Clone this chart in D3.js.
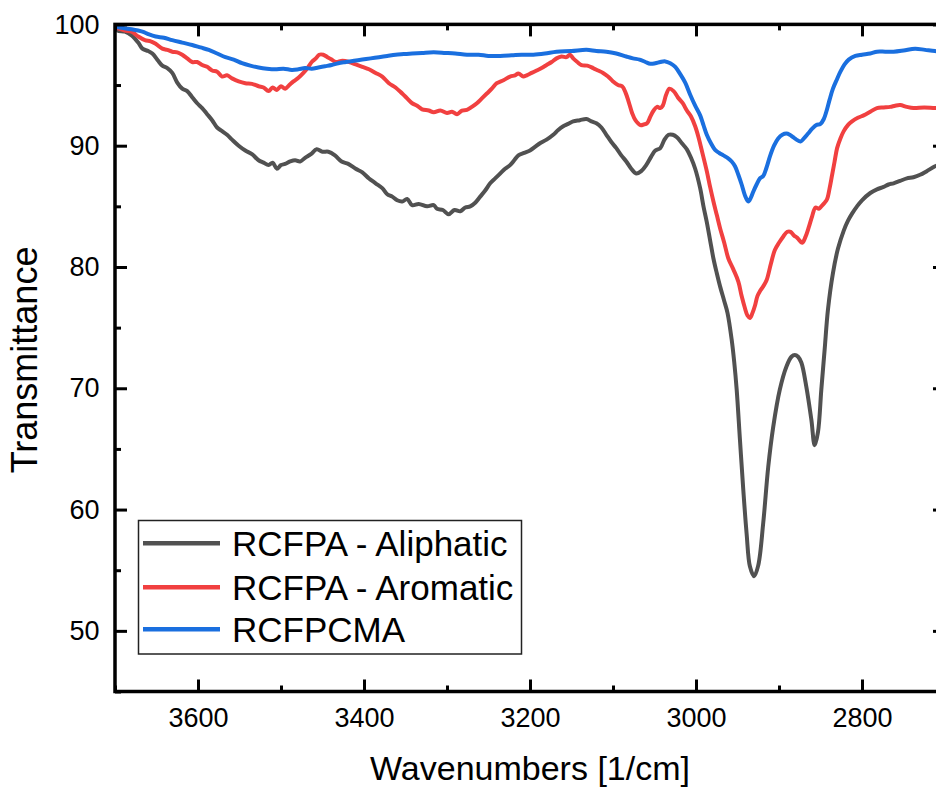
<!DOCTYPE html>
<html>
<head>
<meta charset="utf-8">
<script src="https://cdn.jsdelivr.net/npm/d3@7"></script>
<style>
  html, body { margin: 0; padding: 0; background: #ffffff; overflow: hidden; }
  svg { display: block; font-family: "Liberation Sans", Arial, sans-serif; }
</style>
</head>
<body>
<svg id="chart" width="936" height="787"></svg>
<script>
// FTIR transmittance spectra, C-H stretching region
const wnAliphatic = [3700,3697,3688,3680,3672,3667,3660,3655,3648,3643,3637,3631,3625,3619,3613,3607,3601,3595,3589,3583,3577,3571,3565,3559,3551,3543,3535,3527,3521,3515,3510,3505,3500,3495,3489,3483,3477,3471,3464,3457,3450,3443,3435,3427,3419,3410,3402,3394,3386,3378,3372,3366,3360,3354,3348,3342,3334,3324,3316,3312,3305,3298,3291,3284,3278,3272,3266,3260,3254,3248,3242,3236,3230,3224,3219,3214,3207,3200,3194,3188,3180,3172,3166,3160,3154,3148,3140,3132,3126,3120,3114,3108,3102,3096,3090,3084,3078,3072,3066,3060,3054,3049,3043,3038,3033,3028,3023,3017,3011,3006,3001,2995,2991,2987,2983,2979,2975,2971,2966,2962,2957,2954,2951,2947,2943,2939,2935,2930,2925,2919,2913,2907,2899,2891,2885,2881,2877,2873,2867,2861,2857,2853,2849,2845,2841,2835,2829,2822,2817,2812,2806,2800,2790,2782,2774,2768,2762,2754,2746,2738,2730,2722,2712,2700];
const tAliphatic = [99.8,99.5,99.4,99.1,98.5,98.0,97.8,97.6,97.0,96.6,96.4,96.0,95.2,94.7,94.5,94.0,93.5,93.1,92.6,92.1,91.5,91.2,90.9,90.5,90.0,89.6,89.3,88.8,88.6,88.4,88.6,88.1,88.4,88.5,88.7,88.8,88.7,89.0,89.3,89.7,89.5,89.5,89.2,88.7,88.5,88.1,87.8,87.3,86.9,86.5,86.0,85.8,85.5,85.4,85.6,85.1,85.2,85.0,85.1,84.8,84.7,84.35,84.7,84.6,84.9,85.0,85.3,85.8,86.3,86.9,87.3,87.7,88.1,88.4,88.8,89.2,89.4,89.6,89.9,90.2,90.5,90.9,91.3,91.6,91.8,92.0,92.1,92.2,92.0,91.85,91.5,90.9,90.3,89.8,89.2,88.7,88.1,87.7,87.9,88.4,89.1,89.6,89.8,90.5,90.9,90.9,90.7,90.2,89.7,89.0,88.1,86.5,85.0,83.7,82.2,80.7,79.5,78.4,77.2,76.2,74.0,72.2,69.9,65.7,61.6,58.0,55.3,54.5,55.4,58.9,63.5,66.8,69.9,71.8,72.6,72.75,72.6,72.1,70.1,67.4,65.3,66.4,69.9,73.2,76.5,79.5,81.5,83.0,83.8,84.4,85.0,85.5,86.1,86.4,86.6,86.8,86.9,87.1,87.3,87.4,87.6,87.9,88.3,88.6];

const wnAromatic = [3700,3697,3688,3680,3672,3664,3657,3651,3643,3637,3631,3625,3619,3613,3607,3601,3595,3589,3583,3577,3571,3565,3559,3551,3543,3535,3527,3521,3515,3510,3505,3500,3495,3490,3485,3479,3473,3468,3463,3458,3454,3449,3444,3439,3434,3426,3418,3410,3402,3394,3386,3378,3370,3362,3354,3348,3342,3336,3330,3322,3316,3308,3300,3294,3288,3282,3276,3270,3264,3258,3252,3246,3240,3232,3224,3218,3214,3208,3204,3198,3192,3186,3180,3174,3168,3162,3156,3152,3148,3143,3138,3131,3124,3118,3112,3106,3100,3094,3089,3085,3081,3077,3073,3067,3063,3059,3055,3051,3047,3043,3040,3036,3032,3027,3022,3016,3011,3006,3001,2997,2993,2987,2983,2979,2975,2971,2966,2961,2955,2949,2945,2941,2938,2935,2932,2929,2926,2923,2919,2915,2910,2905,2900,2895,2890,2886,2882,2878,2872,2868,2864,2860,2856,2852,2849,2845,2842,2839,2836,2833,2830,2826,2822,2817,2812,2805,2798,2790,2782,2774,2766,2760,2754,2746,2738,2725,2712,2700];
const tAromatic = [99.8,99.7,99.5,99.4,99.0,98.7,98.6,98.4,98.0,97.9,97.75,97.7,97.5,97.2,96.9,96.9,96.65,96.5,96.2,96.1,95.7,95.8,95.55,95.3,95.15,95.1,94.9,94.8,94.5,94.8,94.6,94.9,94.7,95.0,95.3,95.6,96.0,96.4,96.9,97.2,97.5,97.5,97.3,97.1,96.9,97.0,96.9,96.7,96.5,96.3,96.0,95.7,95.15,94.8,94.3,93.9,93.5,93.3,93.0,92.9,92.75,92.9,92.7,92.8,92.6,92.9,92.95,93.2,93.5,93.9,94.3,94.7,95.15,95.4,95.7,95.8,95.95,95.7,95.8,96.0,96.2,96.4,96.65,96.9,97.2,97.35,97.3,97.5,97.2,96.9,96.65,96.6,96.4,96.2,96.0,95.7,95.3,95.0,94.9,94.4,93.6,92.7,92.1,91.7,91.75,91.85,92.4,92.9,93.2,93.1,93.3,94.2,94.7,94.5,94.0,93.5,92.9,92.4,91.6,90.7,89.6,87.9,86.6,85.4,84.3,83.2,82.0,80.7,79.8,78.8,77.6,76.6,76.0,75.8,76.2,76.8,77.6,78.0,78.4,78.9,80.2,81.4,82.0,82.5,82.9,82.9,82.6,82.4,82.0,82.5,83.3,84.2,84.9,84.8,85.0,85.3,85.6,86.5,87.6,88.7,89.8,90.6,91.2,91.7,92.0,92.3,92.5,92.8,93.1,93.15,93.2,93.3,93.35,93.2,93.1,93.15,93.1,93.1];

const wnPCMA = [3700,3690,3680,3667,3660,3651,3641,3631,3619,3607,3597,3587,3577,3567,3557,3547,3537,3527,3517,3507,3497,3487,3479,3471,3463,3455,3447,3439,3431,3422,3412,3402,3392,3382,3372,3362,3352,3342,3330,3316,3302,3290,3276,3262,3250,3236,3222,3210,3196,3182,3168,3150,3132,3120,3108,3096,3084,3076,3068,3061,3055,3049,3043,3037,3031,3025,3019,3013,3007,3001,2995,2991,2987,2982,2977,2972,2967,2962,2957,2953,2949,2945,2941,2937,2934,2931,2927,2923,2919,2915,2911,2906,2901,2896,2891,2887,2883,2879,2874,2870,2865,2860,2855,2850,2846,2843,2839,2835,2830,2826,2821,2816,2808,2800,2790,2782,2772,2762,2750,2736,2724,2712,2700];
const tPCMA = [99.8,99.7,99.6,99.4,99.2,99.0,98.9,98.7,98.5,98.3,98.1,97.9,97.6,97.3,97.1,96.8,96.6,96.45,96.35,96.3,96.35,96.25,96.3,96.4,96.35,96.45,96.55,96.65,96.8,96.9,97.0,97.1,97.2,97.3,97.4,97.5,97.55,97.6,97.65,97.7,97.65,97.6,97.5,97.5,97.4,97.4,97.45,97.5,97.5,97.6,97.75,97.8,97.9,97.8,97.75,97.6,97.35,97.2,97.1,96.9,96.75,96.8,96.9,96.95,96.8,96.5,95.9,95.2,94.2,93.3,92.5,91.7,90.9,90.2,89.65,89.4,89.2,89.0,88.7,88.3,87.6,86.8,85.9,85.4,85.7,86.2,86.8,87.3,87.5,88.2,89.1,90.0,90.6,90.9,91.0,90.9,90.7,90.5,90.35,90.6,91.0,91.4,91.7,91.8,92.2,92.8,93.8,94.7,95.5,96.1,96.7,97.1,97.4,97.5,97.6,97.75,97.75,97.75,97.85,98.0,97.9,97.8,97.75];

const seriesNames = ["RCFPA - Aliphatic", "RCFPA - Aromatic", "RCFPCMA"];
const seriesColors = ["#515151", "#F14040", "#1A6FDF"];

const xMajorTicks = [3600, 3400, 3200, 3000, 2800];
const xMinorTicks = [3700, 3500, 3300, 3100, 2900, 2700];
const yMajorTicks = [50, 60, 70, 80, 90, 100];
const yMinorTicks = [45, 55, 65, 75, 85, 95];

const xTitle = "Wavenumbers [1/cm]";
const yTitle = "Transmittance";

// ---- layout ----
const frame = { left: 115, right: 945, top: 24.4, bottom: 691.5 };
const svg = d3.select("#chart");

const x = d3.scaleLinear().domain([3700, 2700]).range([frame.left, frame.right]);
const y = d3.scaleLinear().domain([45, 100]).range([frame.bottom, frame.top]);

svg.append("defs").append("clipPath").attr("id", "plotClip")
  .append("rect")
  .attr("x", frame.left).attr("y", frame.top)
  .attr("width", frame.right - frame.left).attr("height", frame.bottom - frame.top);

// ---- spectra ----
const series = [
  { name: seriesNames[0], color: seriesColors[0], wn: wnAliphatic, t: tAliphatic },
  { name: seriesNames[1], color: seriesColors[1], wn: wnAromatic, t: tAromatic },
  { name: seriesNames[2], color: seriesColors[2], wn: wnPCMA, t: tPCMA }
];

const line = d3.line()
  .x(d => x(d[0]))
  .y(d => y(d[1]))
  .curve(d3.curveCatmullRom.alpha(0.5));

const plot = svg.append("g").attr("clip-path", "url(#plotClip)");
series.forEach(s => {
  plot.append("path")
    .datum(s.wn.map((w, i) => [w, s.t[i]]))
    .attr("fill", "none")
    .attr("stroke", s.color)
    .attr("stroke-width", 4)
    .attr("stroke-linejoin", "round")
    .attr("stroke-linecap", "round")
    .attr("d", line);
});

// ---- axes (ticks point inward on all four sides) ----
const MAJOR = 12, MINOR = 6;
function styleAxis(g) {
  g.select(".domain").remove();
  g.selectAll(".tick line").attr("stroke", "#000").attr("stroke-width", 3);
  g.selectAll(".tick text")
    .attr("fill", "#000")
    .style("font-size", "27px")
    .style("font-family", "'Liberation Sans', Arial, sans-serif");
}

// bottom
svg.append("g").attr("transform", `translate(0,${frame.bottom})`)
  .call(d3.axisBottom(x).tickValues(xMajorTicks).tickSizeInner(-MAJOR).tickSizeOuter(0).tickPadding(16).tickFormat(d3.format("d")))
  .call(styleAxis);
svg.append("g").attr("transform", `translate(0,${frame.bottom})`)
  .call(d3.axisBottom(x).tickValues(xMinorTicks).tickSizeInner(-MINOR).tickSizeOuter(0).tickFormat(""))
  .call(styleAxis);
// top
svg.append("g").attr("transform", `translate(0,${frame.top})`)
  .call(d3.axisTop(x).tickValues(xMajorTicks).tickSizeInner(-MAJOR).tickSizeOuter(0).tickFormat(""))
  .call(styleAxis);
svg.append("g").attr("transform", `translate(0,${frame.top})`)
  .call(d3.axisTop(x).tickValues(xMinorTicks).tickSizeInner(-MINOR).tickSizeOuter(0).tickFormat(""))
  .call(styleAxis);
// left
svg.append("g").attr("transform", `translate(${frame.left},0)`)
  .call(d3.axisLeft(y).tickValues(yMajorTicks).tickSizeInner(-MAJOR).tickSizeOuter(0).tickPadding(15.5).tickFormat(d3.format("d")))
  .call(styleAxis);
svg.append("g").attr("transform", `translate(${frame.left},0)`)
  .call(d3.axisLeft(y).tickValues(yMinorTicks).tickSizeInner(-MINOR).tickSizeOuter(0).tickFormat(""))
  .call(styleAxis);
// right
svg.append("g").attr("transform", `translate(${frame.right},0)`)
  .call(d3.axisRight(y).tickValues(yMajorTicks).tickSizeInner(-MAJOR).tickSizeOuter(0).tickFormat(""))
  .call(styleAxis);
svg.append("g").attr("transform", `translate(${frame.right},0)`)
  .call(d3.axisRight(y).tickValues(yMinorTicks).tickSizeInner(-MINOR).tickSizeOuter(0).tickFormat(""))
  .call(styleAxis);

// frame
svg.append("rect")
  .attr("x", frame.left).attr("y", frame.top)
  .attr("width", frame.right - frame.left).attr("height", frame.bottom - frame.top)
  .attr("fill", "none").attr("stroke", "#000").attr("stroke-width", 3.5);

// ---- axis titles ----
svg.append("text")
  .attr("x", (frame.left + frame.right) / 2)
  .attr("y", 780)
  .attr("text-anchor", "middle")
  .style("font-size", "34px")
  .attr("fill", "#000")
  .text(xTitle);

svg.append("text")
  .attr("transform", `translate(37,${(frame.top + frame.bottom) / 2 + 2}) rotate(-90)`)
  .attr("text-anchor", "middle")
  .style("font-size", "36px")
  .attr("fill", "#000")
  .text(yTitle);

// ---- legend ----
const legend = svg.append("g");
legend.append("rect")
  .attr("x", 138.5).attr("y", 520.5)
  .attr("width", 383).attr("height", 133.5)
  .attr("fill", "#fff").attr("stroke", "#222").attr("stroke-width", 1.5);

const rowY = [543.3, 587.3, 629.3];
series.forEach((s, i) => {
  legend.append("line")
    .attr("x1", 143).attr("x2", 220)
    .attr("y1", rowY[i]).attr("y2", rowY[i])
    .attr("stroke", s.color).attr("stroke-width", 4.5);
  legend.append("text")
    .attr("x", 232).attr("y", rowY[i])
    .attr("dy", "0.35em")
    .style("font-size", "35px")
    .attr("fill", "#000")
    .text(s.name);
});
</script>
</body>
</html>
